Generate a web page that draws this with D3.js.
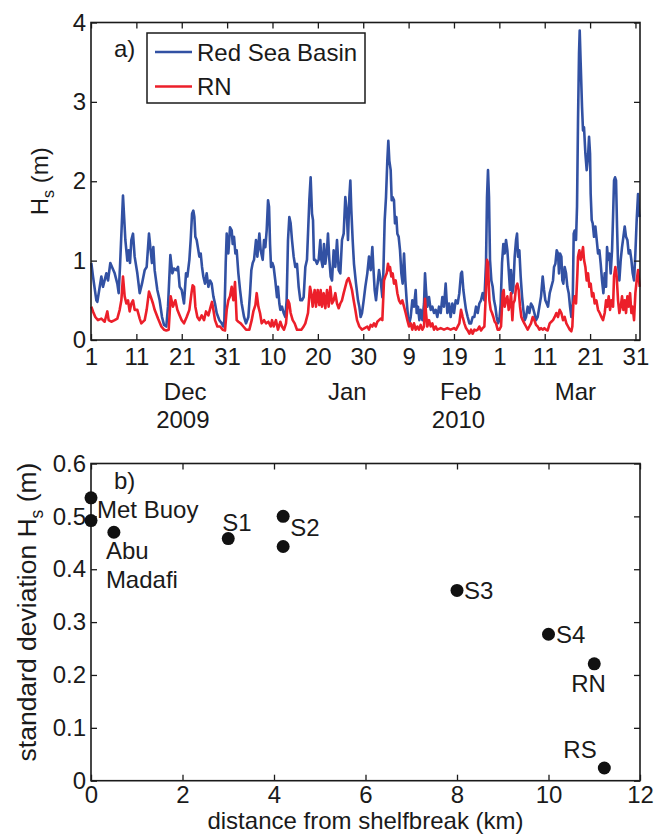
<!DOCTYPE html>
<html>
<head>
<meta charset="utf-8">
<script src="https://cdn.jsdelivr.net/npm/d3@7"></script>
<style>
  html, body { margin: 0; padding: 0; background: #fff; }
  svg { display: block; }
  text { font-family: "Liberation Sans", Arial, Helvetica, sans-serif; fill: #1a1a1a; }
</style>
</head>
<body>
<svg id="fig" width="654" height="835"></svg>
<script>
// ---------- panel a) : significant wave height, Dec 2009 - Mar 2010 ----------
// [days since 1 Dec 2009 00:00 UTC, Hs (m)]
const basinSeries = [
  [0.07,0.97],[0.44,0.80],[1.18,0.50],[1.40,0.48],[2.28,0.80],[2.64,0.67],[3.38,0.84],[3.75,0.75],
  [4.26,0.97],[4.63,0.92],[5.22,0.84],[5.80,0.71],[6.10,0.59],[6.39,0.92],[7.05,1.82],[7.57,1.26],
  [8.01,1.00],[8.30,1.13],[8.60,0.97],[8.89,1.26],[9.26,1.34],[9.62,1.05],[10.21,0.84],[10.73,0.59],
  [11.24,0.71],[11.83,0.88],[12.27,0.92],[12.78,1.34],[13.15,1.13],[13.44,0.97],[13.74,1.17],[14.03,0.88],
  [14.62,0.63],[15.13,0.50],[15.65,0.29],[16.09,0.19],[16.60,0.17],[16.97,0.42],[17.49,1.07],[17.93,0.84],
  [18.29,0.90],[18.81,0.88],[19.18,0.92],[19.54,0.67],[19.99,0.63],[20.50,0.46],[20.94,0.84],[21.24,0.80],
  [21.68,1.01],[21.97,1.26],[22.27,1.59],[22.56,1.63],[22.78,1.55],[23.00,1.30],[23.29,1.26],[23.66,1.13],
  [23.88,1.05],[24.18,1.09],[24.47,0.92],[24.76,0.80],[25.13,0.71],[25.50,0.84],[25.87,0.67],[26.23,0.75],
  [26.60,0.71],[26.97,0.55],[27.33,0.46],[27.70,0.34],[28.29,0.25],[28.80,0.21],[29.17,0.17],[29.39,0.25],
  [29.69,0.97],[29.91,1.34],[30.27,1.09],[30.64,1.42],[31.01,1.38],[31.23,1.21],[31.52,1.30],[31.82,1.09],
  [32.11,1.13],[32.48,0.84],[32.85,0.63],[33.21,0.46],[33.73,0.29],[34.17,0.21],[34.68,0.29],[35.05,0.59],
  [35.34,0.88],[35.64,0.97],[35.93,1.01],[36.37,1.26],[36.67,1.05],[37.11,1.34],[37.40,1.13],[37.84,1.01],
  [38.14,1.26],[38.43,1.17],[38.72,1.38],[39.02,1.76],[39.24,1.68],[39.46,1.21],[39.68,0.92],[39.97,0.97],
  [40.26,0.92],[40.62,0.75],[40.99,0.54],[41.21,0.67],[41.51,0.46],[41.73,0.38],[42.09,0.42],[42.46,0.34],
  [42.83,0.29],[43.12,0.50],[43.42,1.26],[43.71,1.55],[44.00,1.47],[44.30,1.26],[44.67,1.05],[45.03,0.92],
  [45.40,0.96],[45.77,0.67],[46.14,0.50],[46.50,0.50],[46.87,0.54],[47.24,0.92],[47.60,1.01],[47.83,1.34],
  [48.12,1.76],[48.41,2.05],[48.71,1.59],[48.93,1.51],[49.15,1.01],[49.44,1.01],[49.81,0.96],[50.18,1.01],
  [50.54,1.26],[50.76,1.01],[51.06,0.92],[51.35,1.21],[51.65,0.96],[52.01,1.13],[52.23,1.34],[52.53,1.01],
  [52.82,0.80],[53.12,0.75],[53.48,1.13],[53.85,0.92],[54.22,1.26],[54.59,0.88],[54.95,0.84],[55.32,1.26],
  [55.69,1.34],[56.05,1.80],[56.35,1.63],[56.64,1.26],[56.94,1.80],[57.16,2.01],[57.38,1.63],[57.67,1.26],
  [57.96,0.96],[58.41,0.71],[58.85,0.50],[59.14,0.42],[59.43,0.29],[59.73,0.34],[60.10,0.50],[60.46,0.67],
  [60.90,0.84],[61.27,1.05],[61.64,0.88],[62.01,1.17],[62.23,0.92],[62.52,0.63],[62.82,0.50],[63.11,0.67],
  [63.48,0.88],[63.84,0.75],[64.21,0.54],[64.43,0.84],[64.73,1.51],[65.02,1.80],[65.31,2.26],[65.53,2.51],
  [65.75,2.26],[66.05,2.14],[66.27,1.76],[66.49,1.80],[66.78,1.76],[67.00,1.47],[67.30,1.55],[67.52,1.34],
  [67.81,1.30],[68.11,1.13],[68.40,0.84],[68.69,0.71],[68.99,1.09],[69.28,0.75],[69.57,0.50],[69.87,0.29],
  [70.16,0.21],[70.46,0.29],[70.82,0.50],[71.19,0.42],[71.56,0.63],[71.78,0.34],[72.07,0.42],[72.37,0.25],
  [72.66,0.38],[73.03,0.25],[73.40,0.46],[73.62,0.84],[73.84,0.63],[74.13,0.42],[74.50,0.54],[74.87,0.38],
  [75.23,0.42],[75.60,0.34],[75.97,0.38],[76.33,0.29],[76.70,0.42],[77.07,0.34],[77.44,0.54],[77.80,0.42],
  [78.17,0.71],[78.54,0.34],[78.91,0.46],[79.27,0.29],[79.64,0.46],[80.01,0.34],[80.38,0.50],[80.82,0.46],
  [81.18,0.59],[81.55,0.84],[81.77,0.86],[82.07,0.63],[82.36,0.50],[82.65,0.38],[83.02,0.29],[83.39,0.21],
  [83.76,0.21],[84.12,0.29],[84.49,0.29],[84.86,0.42],[85.23,0.34],[85.59,0.46],[85.96,0.50],[86.33,0.59],
  [86.70,0.50],[87.06,0.97],[87.28,1.80],[87.50,2.14],[87.72,1.80],[87.94,1.01],[88.24,0.75],[88.53,0.67],
  [88.83,0.50],[89.12,0.42],[89.41,0.29],[89.71,0.21],[90.00,0.25],[90.30,0.46],[90.59,0.97],[90.88,1.21],
  [91.18,1.09],[91.47,1.26],[91.77,1.13],[92.06,0.88],[92.35,0.63],[92.57,0.88],[92.87,0.59],[93.09,0.67],
  [93.38,1.05],[93.68,1.26],[93.90,1.34],[94.12,1.05],[94.41,1.13],[94.70,0.80],[95.00,0.55],[95.29,0.38],
  [95.59,0.25],[95.88,0.29],[96.25,0.42],[96.61,0.34],[96.98,0.46],[97.35,0.42],[97.72,0.34],[98.08,0.25],
  [98.45,0.29],[98.82,0.42],[99.19,0.55],[99.55,0.80],[99.85,0.63],[100.14,0.50],[100.44,0.46],[100.73,0.42],
  [101.10,0.59],[101.46,0.67],[101.83,0.75],[102.05,0.92],[102.35,0.96],[102.64,1.13],[102.93,1.09],[103.15,0.84],
  [103.38,1.09],[103.67,1.05],[103.89,0.75],[104.11,0.71],[104.40,0.92],[104.70,0.84],[104.99,0.67],[105.29,0.59],
  [105.58,0.42],[105.87,0.29],[106.17,0.46],[106.39,1.34],[106.61,1.38],[106.90,1.26],[107.12,1.68],[107.34,2.77],
  [107.56,3.61],[107.71,3.90],[107.93,3.48],[108.22,2.94],[108.44,2.64],[108.66,2.68],[108.96,2.35],[109.25,2.14],
  [109.55,2.31],[109.77,2.56],[109.99,2.35],[110.13,1.84],[110.36,1.51],[110.58,1.47],[110.87,1.30],[111.16,1.43],
  [111.46,1.26],[111.75,1.09],[112.05,1.13],[112.34,0.96],[112.63,0.75],[112.93,0.59],[113.22,0.84],[113.52,0.67],
  [113.74,1.17],[113.96,1.01],[114.25,1.09],[114.54,0.84],[114.84,1.13],[115.06,1.55],[115.28,2.01],[115.50,2.05],
  [115.72,2.01],[115.94,1.43],[116.16,0.96],[116.45,0.75],[116.75,1.01],[117.04,1.17],[117.34,1.30],[117.63,1.43],
  [117.92,1.30],[118.22,1.26],[118.51,1.09],[118.81,1.13],[119.10,1.01],[119.39,0.84],[119.69,0.75],[119.98,1.09],
  [120.27,1.51],[120.57,1.84],[120.79,1.59],[120.93,1.55]
];

const rnSeries = [
  [0.07,0.42],[0.44,0.36],[0.95,0.29],[1.54,0.25],[2.28,0.27],[3.01,0.23],[3.60,0.36],[3.89,0.25],
  [4.48,0.23],[5.22,0.25],[5.80,0.27],[6.32,0.38],[6.69,0.50],[7.05,0.80],[7.42,0.55],[7.79,0.46],
  [8.16,0.50],[8.52,0.36],[8.89,0.46],[9.26,0.50],[9.62,0.38],[10.21,0.38],[10.73,0.27],[11.09,0.21],
  [11.83,0.25],[12.27,0.38],[12.78,0.61],[13.15,0.55],[13.66,0.46],[14.03,0.38],[14.77,0.27],[15.50,0.17],
  [16.09,0.13],[16.60,0.12],[17.12,0.13],[17.56,0.55],[18.07,0.42],[18.59,0.50],[19.03,0.38],[19.54,0.31],
  [19.99,0.25],[20.50,0.21],[21.09,0.29],[21.68,0.38],[22.19,0.61],[22.41,0.69],[22.71,0.67],[23.00,0.42],
  [23.44,0.29],[23.88,0.25],[24.40,0.31],[24.91,0.25],[25.35,0.36],[25.87,0.31],[26.38,0.42],[26.67,0.48],
  [26.97,0.38],[27.33,0.25],[27.85,0.17],[28.44,0.17],[29.02,0.13],[29.54,0.12],[29.91,0.38],[30.27,0.50],
  [30.64,0.55],[31.01,0.67],[31.38,0.50],[31.74,0.73],[32.11,0.25],[32.48,0.23],[32.99,0.21],[33.58,0.17],
  [34.17,0.13],[34.90,0.13],[35.42,0.25],[35.78,0.36],[36.23,0.44],[36.52,0.59],[36.89,0.42],[37.25,0.34],
  [37.62,0.21],[38.14,0.25],[38.58,0.21],[39.09,0.23],[39.61,0.17],[39.89,0.25],[40.26,0.17],[40.77,0.25],
  [41.21,0.13],[41.73,0.23],[42.09,0.17],[42.54,0.13],[42.98,0.21],[43.42,0.50],[43.71,0.46],[44.00,0.34],
  [44.45,0.25],[44.89,0.21],[45.40,0.13],[45.91,0.13],[46.36,0.13],[46.87,0.17],[47.24,0.21],[47.83,0.34],
  [48.27,0.67],[48.56,0.59],[48.85,0.42],[49.29,0.63],[49.59,0.42],[49.96,0.63],[50.32,0.44],[50.62,0.63],
  [50.91,0.42],[51.28,0.59],[51.65,0.40],[52.01,0.63],[52.38,0.42],[52.75,0.67],[53.12,0.46],[53.48,0.50],
  [53.85,0.59],[54.22,0.46],[54.59,0.40],[54.95,0.46],[55.32,0.50],[55.69,0.59],[56.05,0.67],[56.42,0.75],
  [56.79,0.78],[57.16,0.71],[57.52,0.63],[57.89,0.50],[58.26,0.38],[58.63,0.25],[59.14,0.17],[59.73,0.13],
  [60.32,0.15],[60.90,0.17],[61.27,0.13],[61.64,0.19],[62.01,0.17],[62.37,0.21],[62.74,0.17],[63.11,0.23],
  [63.48,0.25],[63.84,0.27],[64.21,0.25],[64.58,0.75],[64.87,0.80],[65.17,0.84],[65.46,0.96],[65.68,0.88],
  [65.90,0.92],[66.19,0.80],[66.49,0.84],[66.78,0.71],[67.15,0.75],[67.52,0.59],[67.88,0.50],[68.25,0.46],
  [68.62,0.50],[68.99,0.42],[69.35,0.34],[69.72,0.25],[70.09,0.17],[70.46,0.21],[70.82,0.13],[71.19,0.21],
  [71.56,0.13],[71.93,0.17],[72.29,0.13],[72.66,0.19],[73.03,0.13],[73.40,0.17],[73.62,0.52],[73.84,0.34],
  [74.13,0.17],[74.50,0.25],[74.87,0.17],[75.23,0.21],[75.60,0.13],[75.97,0.17],[76.33,0.13],[77.07,0.15],
  [77.80,0.13],[78.54,0.15],[79.27,0.13],[80.01,0.15],[80.45,0.13],[81.18,0.21],[81.55,0.38],[81.92,0.29],
  [82.29,0.21],[82.65,0.15],[83.02,0.12],[83.39,0.08],[83.76,0.13],[84.12,0.08],[84.49,0.13],[84.86,0.12],
  [85.23,0.13],[85.59,0.17],[85.96,0.12],[86.33,0.15],[86.70,0.17],[87.06,0.63],[87.28,1.01],[87.50,0.97],
  [87.80,0.50],[88.09,0.38],[88.39,0.34],[88.68,0.29],[88.97,0.23],[89.27,0.21],[89.63,0.13],[90.00,0.13],
  [90.37,0.17],[90.74,0.59],[90.96,0.63],[91.18,0.42],[91.47,0.50],[91.77,0.55],[92.06,0.38],[92.35,0.46],
  [92.57,0.59],[92.87,0.25],[93.09,0.46],[93.38,0.50],[93.68,0.67],[93.97,0.71],[94.26,0.63],[94.56,0.42],
  [94.85,0.29],[95.15,0.25],[95.51,0.21],[95.88,0.17],[96.25,0.13],[96.61,0.17],[96.98,0.21],[97.35,0.29],
  [97.72,0.25],[98.08,0.19],[98.45,0.17],[98.82,0.13],[99.19,0.15],[99.55,0.13],[99.92,0.15],[100.29,0.13],
  [100.65,0.12],[101.10,0.21],[101.46,0.23],[101.83,0.25],[102.20,0.29],[102.57,0.34],[102.93,0.29],[103.30,0.38],
  [103.67,0.34],[104.04,0.25],[104.40,0.29],[104.77,0.21],[105.14,0.17],[105.51,0.13],[105.87,0.11],[106.09,0.17],
  [106.31,0.46],[106.61,0.55],[106.90,0.46],[107.20,0.84],[107.34,1.05],[107.64,1.13],[107.93,1.01],[108.22,1.09],
  [108.44,1.17],[108.66,1.01],[108.96,0.92],[109.25,0.75],[109.55,0.84],[109.84,0.67],[110.13,0.71],[110.43,0.55],
  [110.72,0.59],[111.02,0.46],[111.38,0.50],[111.75,0.38],[112.12,0.34],[112.49,0.29],[112.85,0.25],[113.22,0.34],
  [113.52,0.50],[113.81,0.42],[114.10,0.55],[114.40,0.38],[114.69,0.50],[115.06,0.42],[115.28,0.80],[115.57,0.92],
  [115.86,0.80],[116.16,0.50],[116.45,0.34],[116.75,0.42],[117.04,0.55],[117.34,0.38],[117.63,0.50],[117.92,0.34],
  [118.22,0.55],[118.51,0.42],[118.81,0.59],[119.10,0.34],[119.39,0.42],[119.69,0.25],[119.98,0.59],[120.27,0.75],
  [120.57,0.88],[120.79,0.75],[120.93,0.67]
];

const seriesNames = ["Red Sea Basin", "RN"];
const hsTicks = [0, 1, 2, 3, 4];
const dateTicks = ["2009-12-01","2009-12-11","2009-12-21","2009-12-31","2010-01-10","2010-01-20",
                   "2010-01-30","2010-02-09","2010-02-19","2010-03-01","2010-03-11","2010-03-21","2010-03-31"];
const monthLabels = [["Dec","2009-12-21T18:00"],["Jan","2010-01-26T12:00"],["Feb","2010-02-20T12:00"],["Mar","2010-03-17T18:00"]];
const yearLabels  = [["2009","2009-12-21T06:00"],["2010","2010-02-20T00:00"]];

// ---------- panel b) : std. dev. of Hs versus cross-shelf distance ----------
const stationNames = ["Met Buoy", "Met Buoy", "Abu Madafi", "S1", "S2", "S2", "S3", "S4", "RN", "RS"];
const stationKm    = [0, 0, 0.5, 3.0, 4.2, 4.2, 8.0, 10.0, 11.0, 11.22];
const stationSd    = [0.535, 0.492, 0.470, 0.458, 0.500, 0.443, 0.360, 0.277, 0.221, 0.024];
const kmTicks = [0, 2, 4, 6, 8, 10, 12];
const sdTicks = [0, 0.1, 0.2, 0.3, 0.4, 0.5, 0.6];

// label placement (pixel offsets from the anchoring dot, by station index)
const stationLabels = [
  { idx: 1, lines: ["Met Buoy"], dx: 6, dy: -3 },
  { idx: 2, lines: ["Abu", "Madafi"], dx: -8, dy: 27 },
  { idx: 3, lines: ["S1"], dx: -6, dy: -8 },
  { idx: 4, lines: ["S2"], dx: 7, dy: 20 },
  { idx: 6, lines: ["S3"], dx: 7, dy: 8.5 },
  { idx: 7, lines: ["S4"], dx: 7.5, dy: 9 },
  { idx: 8, lines: ["RN"], dx: -23, dy: 28 },
  { idx: 9, lines: ["RS"], dx: -41, dy: -10 }
];

// ---------- drawing ----------
const svg = d3.select("#fig");
const FONT = 24;
const INK = "#1a1a1a";
const BLUE = "#3251a3";
const RED = "#ec1f2a";

const t0 = Date.UTC(2009, 11, 1);
const dayToDate = d => new Date(t0 + d * 864e5);
const parseIso = d3.utcParse("%Y-%m-%d");
const parseIsoT = d3.utcParse("%Y-%m-%dT%H:%M");

const panelA = { left: 91, right: 640, top: 22.5, bottom: 340 };
const panelB = { left: 91, right: 640, top: 463.5, bottom: 780.7 };

function styleAxis(g) {
  g.select(".domain").remove();
  g.selectAll(".tick line").attr("stroke", INK).attr("stroke-width", 1.3);
  g.selectAll(".tick text").attr("font-size", FONT).attr("fill", INK)
    .attr("font-family", '"Liberation Sans", Arial, Helvetica, sans-serif');
}

function frame(p) {
  svg.append("rect")
    .attr("x", p.left).attr("y", p.top)
    .attr("width", p.right - p.left).attr("height", p.bottom - p.top)
    .attr("fill", "none").attr("stroke", INK).attr("stroke-width", 1.6);
}

// ----- panel a -----
const x = d3.scaleUtc().domain([dayToDate(0), dayToDate(121)]).range([panelA.left, panelA.right]);
const y = d3.scaleLinear().domain([0, 4]).range([panelA.bottom, panelA.top]);
const tickDates = dateTicks.map(parseIso);

const line = d3.line().x(d => x(dayToDate(d[0]))).y(d => y(d[1]));

const gA = svg.append("g");
gA.append("path").datum(basinSeries).attr("d", line)
  .attr("fill", "none").attr("stroke", BLUE).attr("stroke-width", 2.6).attr("stroke-linejoin", "round");
gA.append("path").datum(rnSeries).attr("d", line)
  .attr("fill", "none").attr("stroke", RED).attr("stroke-width", 2.6).attr("stroke-linejoin", "round");

svg.append("g").attr("transform", `translate(0,${panelA.bottom})`)
  .call(d3.axisBottom(x).tickValues(tickDates).tickFormat(d3.utcFormat("%-d"))
    .tickSizeInner(-6).tickSizeOuter(0).tickPadding(8))
  .call(styleAxis);
svg.append("g").attr("transform", `translate(0,${panelA.top})`)
  .call(d3.axisTop(x).tickValues(tickDates).tickFormat("").tickSizeInner(-6).tickSizeOuter(0))
  .call(styleAxis);
svg.append("g").attr("transform", `translate(${panelA.left},0)`)
  .call(d3.axisLeft(y).tickValues(hsTicks).tickFormat(d3.format("d"))
    .tickSizeInner(-6).tickSizeOuter(0).tickPadding(5))
  .call(styleAxis);
svg.append("g").attr("transform", `translate(${panelA.right},0)`)
  .call(d3.axisRight(y).tickValues(hsTicks).tickFormat("").tickSizeInner(-6).tickSizeOuter(0))
  .call(styleAxis);
frame(panelA);

svg.append("g").selectAll("text").data(monthLabels).join("text")
  .attr("x", d => x(parseIsoT(d[1]))).attr("y", 400)
  .attr("text-anchor", "middle").attr("font-size", FONT).text(d => d[0]);
svg.append("g").selectAll("text").data(yearLabels).join("text")
  .attr("x", d => x(parseIsoT(d[1]))).attr("y", 428)
  .attr("text-anchor", "middle").attr("font-size", FONT).text(d => d[0]);

// y label: H_s (m)
const yLabA = svg.append("text")
  .attr("transform", `translate(48,${(panelA.top + panelA.bottom) / 2}) rotate(-90)`)
  .attr("text-anchor", "middle").attr("font-size", FONT);
yLabA.append("tspan").text("H");
yLabA.append("tspan").attr("font-size", 16).attr("dy", 6).text("s");
yLabA.append("tspan").attr("dy", -6).text(" (m)");

svg.append("text").attr("x", 114).attr("y", 57).attr("font-size", FONT).text("a)");

// legend
const leg = svg.append("g");
leg.append("rect").attr("x", 147).attr("y", 33).attr("width", 218).attr("height", 70)
  .attr("fill", "#fff").attr("stroke", INK).attr("stroke-width", 1.5);
[[BLUE, 52, 61], [RED, 86.5, 95]].forEach((s, i) => {
  leg.append("line").attr("x1", 155).attr("x2", 192).attr("y1", s[1]).attr("y2", s[1])
    .attr("stroke", s[0]).attr("stroke-width", 2.6);
  leg.append("text").attr("x", 197).attr("y", s[2]).attr("font-size", FONT).text(seriesNames[i]);
});

// ----- panel b -----
const xb = d3.scaleLinear().domain([0, 12]).range([panelB.left, panelB.right]);
const yb = d3.scaleLinear().domain([0, 0.6]).range([panelB.bottom, panelB.top]);
const sdFmt = v => (v === 0 ? "0" : d3.format(".1f")(v));

svg.append("g").attr("transform", `translate(0,${panelB.bottom})`)
  .call(d3.axisBottom(xb).tickValues(kmTicks).tickFormat(d3.format("d"))
    .tickSizeInner(-6).tickSizeOuter(0).tickPadding(5))
  .call(styleAxis);
svg.append("g").attr("transform", `translate(0,${panelB.top})`)
  .call(d3.axisTop(xb).tickValues(kmTicks).tickFormat("").tickSizeInner(-6).tickSizeOuter(0))
  .call(styleAxis);
svg.append("g").attr("transform", `translate(${panelB.left},0)`)
  .call(d3.axisLeft(yb).tickValues(sdTicks).tickFormat(sdFmt)
    .tickSizeInner(-6).tickSizeOuter(0).tickPadding(5))
  .call(styleAxis);
svg.append("g").attr("transform", `translate(${panelB.right},0)`)
  .call(d3.axisRight(yb).tickValues(sdTicks).tickFormat("").tickSizeInner(-6).tickSizeOuter(0))
  .call(styleAxis);
frame(panelB);

svg.append("g").selectAll("circle").data(stationKm).join("circle")
  .attr("cx", (d, i) => xb(d)).attr("cy", (d, i) => yb(stationSd[i]))
  .attr("r", 6.5).attr("fill", "#111");

stationLabels.forEach(l => {
  const cx = xb(stationKm[l.idx]), cy = yb(stationSd[l.idx]);
  l.lines.forEach((s, j) => {
    svg.append("text").attr("x", cx + l.dx).attr("y", cy + l.dy + j * 29)
      .attr("font-size", FONT).text(s);
  });
});

svg.append("text").attr("x", 114).attr("y", 489).attr("font-size", FONT).text("b)");

svg.append("text").attr("x", (panelB.left + panelB.right) / 2).attr("y", 829)
  .attr("text-anchor", "middle").attr("font-size", FONT).text("distance from shelfbreak (km)");

const yLabB = svg.append("text")
  .attr("transform", `translate(36,612) rotate(-90)`)
  .attr("text-anchor", "middle").attr("font-size", 26.5);
yLabB.append("tspan").text("standard deviation H");
yLabB.append("tspan").attr("font-size", 17.5).attr("dy", 6.5).text("s");
yLabB.append("tspan").attr("dy", -6.5).text(" (m)");
</script>
</body>
</html>
